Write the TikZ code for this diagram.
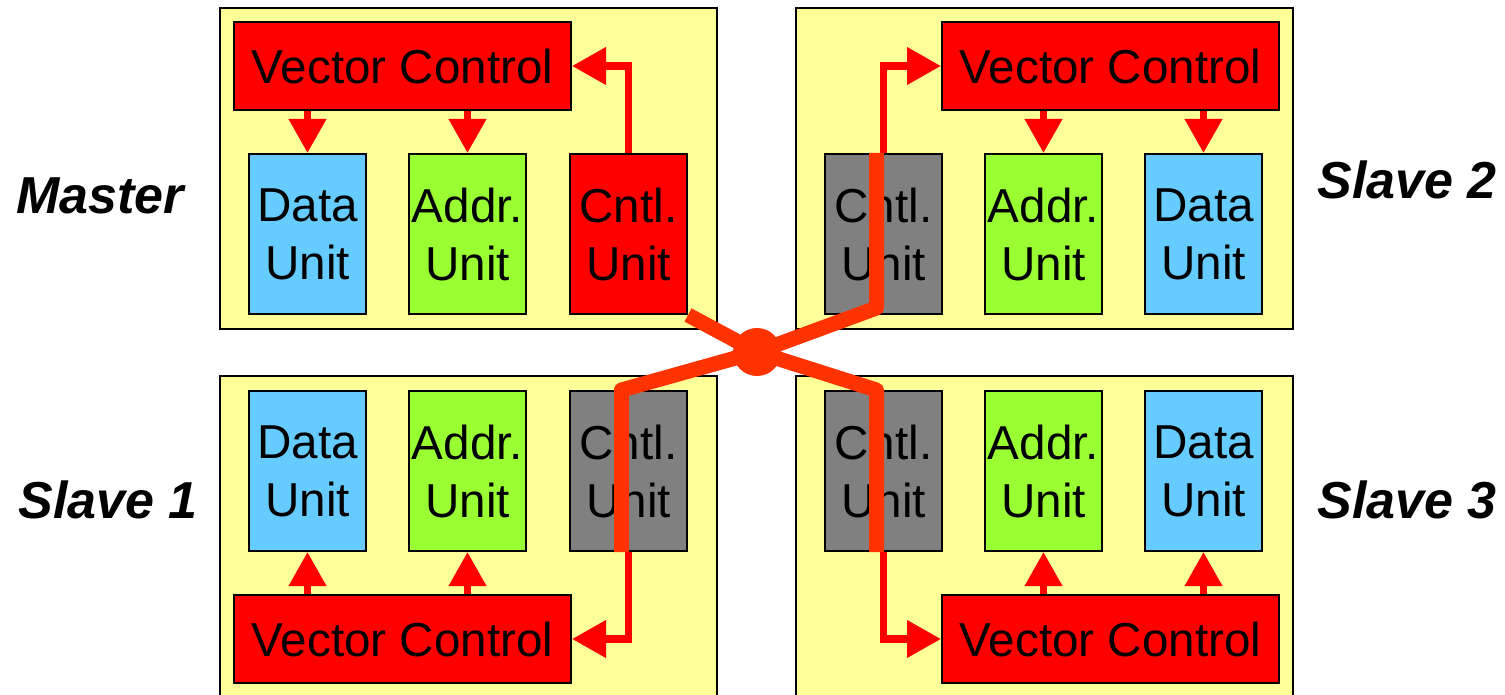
\documentclass[tikz,border=0pt]{standalone}
\usepackage{fontspec}
\setmainfont{Liberation Sans}
\usetikzlibrary{arrows.meta,positioning,calc}
\definecolor{panelYellow}{HTML}{FFFF99}
\definecolor{vcRed}{HTML}{FF0000}
\definecolor{dataBlue}{HTML}{66CCFF}
\definecolor{addrGreen}{HTML}{99FF33}
\definecolor{cntlGray}{HTML}{808080}
\definecolor{busOrange}{HTML}{FF3300}

\begin{document}
\begin{tikzpicture}[x=0.5pt,y=-0.5pt,
  panel/.style={draw=black,line width=1pt,fill=panelYellow,minimum width=248.5pt,minimum height=160.5pt,inner sep=0pt},
  unit/.style={draw=black,line width=1pt,minimum width=58.5pt,minimum height=80pt,inner sep=0pt,align=center,font=\fontsize{23.8}{29}\selectfont},
  vc/.style={draw=black,line width=1pt,fill=vcRed,minimum width=168.5pt,minimum height=44pt,inner sep=0pt,font=\fontsize{23.8}{29}\selectfont},
  who/.style={font=\fontsize{26}{31}\selectfont\bfseries\itshape},
  ctl/.style={-{Triangle[width=18pt,length=17pt]},line width=3.6pt,vcRed},
  bus/.style={line width=7.5pt,busOrange,line join=round}
]
\useasboundingbox (0,0) rectangle (1505,695);
% panels
\node[panel] (mpanel) at (468.5,168.5) {};
\node[panel] (s2panel) at (1044.5,168.5) {};
\node[panel] (s1panel) at (468.5,536) {};
\node[panel] (s3panel) at (1044.5,536) {};
% master
\node[vc] (mvc) at (402.5,66) {Vector Control};
\node[unit,fill=dataBlue] (mdata) at (307.5,234) {Data\\Unit};
\node[unit,fill=addrGreen] (maddr) at (467.5,234) {Addr.\\Unit};
\node[unit,fill=vcRed] (mcntl) at (628.5,234) {Cntl.\\Unit};
\draw[ctl] (mvc.south -| mdata.north) -- (mdata.north);
\draw[ctl] (mvc.south -| maddr.north) -- (maddr.north);
\draw[ctl] (mcntl.north) |- (mvc.east);
% slave 2
\node[vc] (s2vc) at (1110.5,66) {Vector Control};
\node[unit,fill=cntlGray] (s2cntl) at (883.5,234) {Cntl.\\Unit};
\node[unit,fill=addrGreen] (s2addr) at (1043.5,234) {Addr.\\Unit};
\node[unit,fill=dataBlue] (s2data) at (1203.5,234) {Data\\Unit};
\draw[ctl] (s2vc.south -| s2addr.north) -- (s2addr.north);
\draw[ctl] (s2vc.south -| s2data.north) -- (s2data.north);
\draw[ctl] (s2cntl.north) |- (s2vc.west);
% slave 1
\node[vc] (s1vc) at (402.5,639) {Vector Control};
\node[unit,fill=dataBlue] (s1data) at (307.5,471) {Data\\Unit};
\node[unit,fill=addrGreen] (s1addr) at (467.5,471) {Addr.\\Unit};
\node[unit,fill=cntlGray] (s1cntl) at (628.5,471) {Cntl.\\Unit};
\draw[ctl] (s1vc.north -| s1data.south) -- (s1data.south);
\draw[ctl] (s1vc.north -| s1addr.south) -- (s1addr.south);
\draw[ctl] (s1cntl.south) |- (s1vc.east);
% slave 3
\node[vc] (s3vc) at (1110.5,639) {Vector Control};
\node[unit,fill=cntlGray] (s3cntl) at (883.5,471) {Cntl.\\Unit};
\node[unit,fill=addrGreen] (s3addr) at (1043.5,471) {Addr.\\Unit};
\node[unit,fill=dataBlue] (s3data) at (1203.5,471) {Data\\Unit};
\draw[ctl] (s3vc.north -| s3addr.south) -- (s3addr.south);
\draw[ctl] (s3vc.north -| s3data.south) -- (s3data.south);
\draw[ctl] (s3cntl.south) |- (s3vc.west);
% bus between control units
\node[circle,fill=busOrange,minimum size=24pt,inner sep=0pt] (hub) at (757,352) {};
\draw[bus] (mcntl.south east) -- (hub.center) -- ($(s3cntl.north)+(-7,0)$) -- ($(s3cntl.south)+(-7,0)$);
\draw[bus] ($(s2cntl.north)+(-7,0)$) -- ($(s2cntl.south)+(-7,-7)$) -- (hub.center) -- ($(s1cntl.north)+(-7,0)$) -- ($(s1cntl.south)+(-7,0)$);
% labels
\node[who] (mlabel) at (100,196) {Master};
\node[who] (s2label) at (1407,180) {Slave 2};
\node[who] (s1label) at (108,500) {Slave 1};
\node[who] (s3label) at (1407,500) {Slave 3};
\end{tikzpicture}
\end{document}
